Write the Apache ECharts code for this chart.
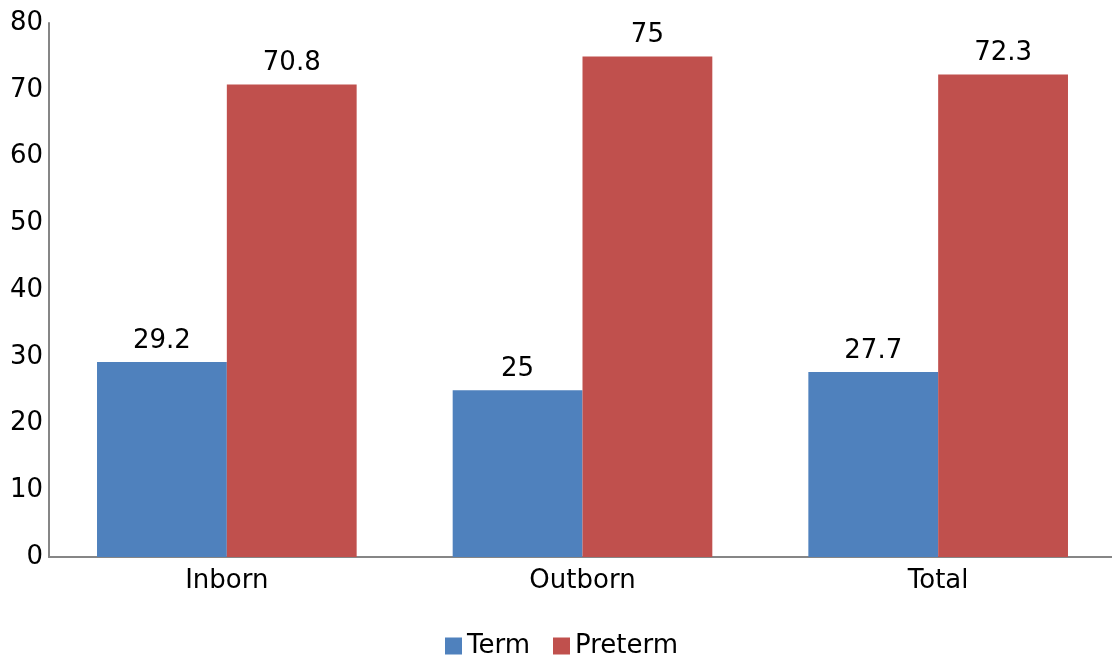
<!DOCTYPE html>
<html>
<head>
<meta charset="utf-8">
<script src="https://cdn.jsdelivr.net/npm/echarts@6/dist/echarts.min.js"></script>
<style>
  html, body { margin: 0; padding: 0; background: #ffffff; }
  #chart { width: 1112px; height: 657px; }
</style>
</head>
<body>
<div id="chart"></div>
<script>
// Share of births by gestational age, grouped by place of birth
const categories = ['Inborn', 'Outborn', 'Total'];
const termValues = [29.2, 25, 27.7];
const pretermValues = [70.8, 75, 72.3];
const yTicks = { min: 0, max: 80, interval: 10 };

const FONT = 'DejaVu Sans';
const FONT_SIZE = 26;
const chart = echarts.init(document.getElementById('chart'), null, { renderer: 'canvas' });

const labelStyle = {
  show: true,
  position: 'top',
  distance: 8,
  color: '#000000',
  fontFamily: FONT,
  fontSize: FONT_SIZE
};

chart.setOption({
  animation: false,
  textStyle: { fontFamily: FONT },
  grid: {
    left: 49, right: -4, top: 23, bottom: 100,
    containLabel: false,
    outerBoundsMode: 'none'
  },
  legend: {
    top: 628,
    left: 440,
    itemWidth: 17,
    itemHeight: 17,
    itemGap: 23,
    icon: 'rect',
    textStyle: { fontFamily: FONT, fontSize: FONT_SIZE, color: '#000000' },
    data: ['Term', 'Preterm']
  },
  xAxis: {
    type: 'category',
    data: categories,
    axisLine: { lineStyle: { color: '#868686', width: 2 } },
    axisTick: { show: false },
    axisLabel: { color: '#000000', fontFamily: FONT, fontSize: FONT_SIZE, margin: 11 }
  },
  yAxis: {
    type: 'value',
    min: yTicks.min,
    max: yTicks.max,
    interval: yTicks.interval,
    splitLine: { show: false },
    axisLine: { show: true, lineStyle: { color: '#868686', width: 2 } },
    axisTick: { show: false },
    axisLabel: { color: '#000000', fontFamily: FONT, fontSize: FONT_SIZE, margin: 6 }
  },
  series: [
    {
      name: 'Term',
      type: 'bar',
      data: termValues,
      barGap: '0%',
      barCategoryGap: '27%',
      itemStyle: { color: '#4F81BD' },
      label: labelStyle
    },
    {
      name: 'Preterm',
      type: 'bar',
      data: pretermValues,
      barGap: '0%',
      barCategoryGap: '27%',
      itemStyle: { color: '#C0504D' },
      label: labelStyle
    }
  ]
});
</script>
</body>
</html>
